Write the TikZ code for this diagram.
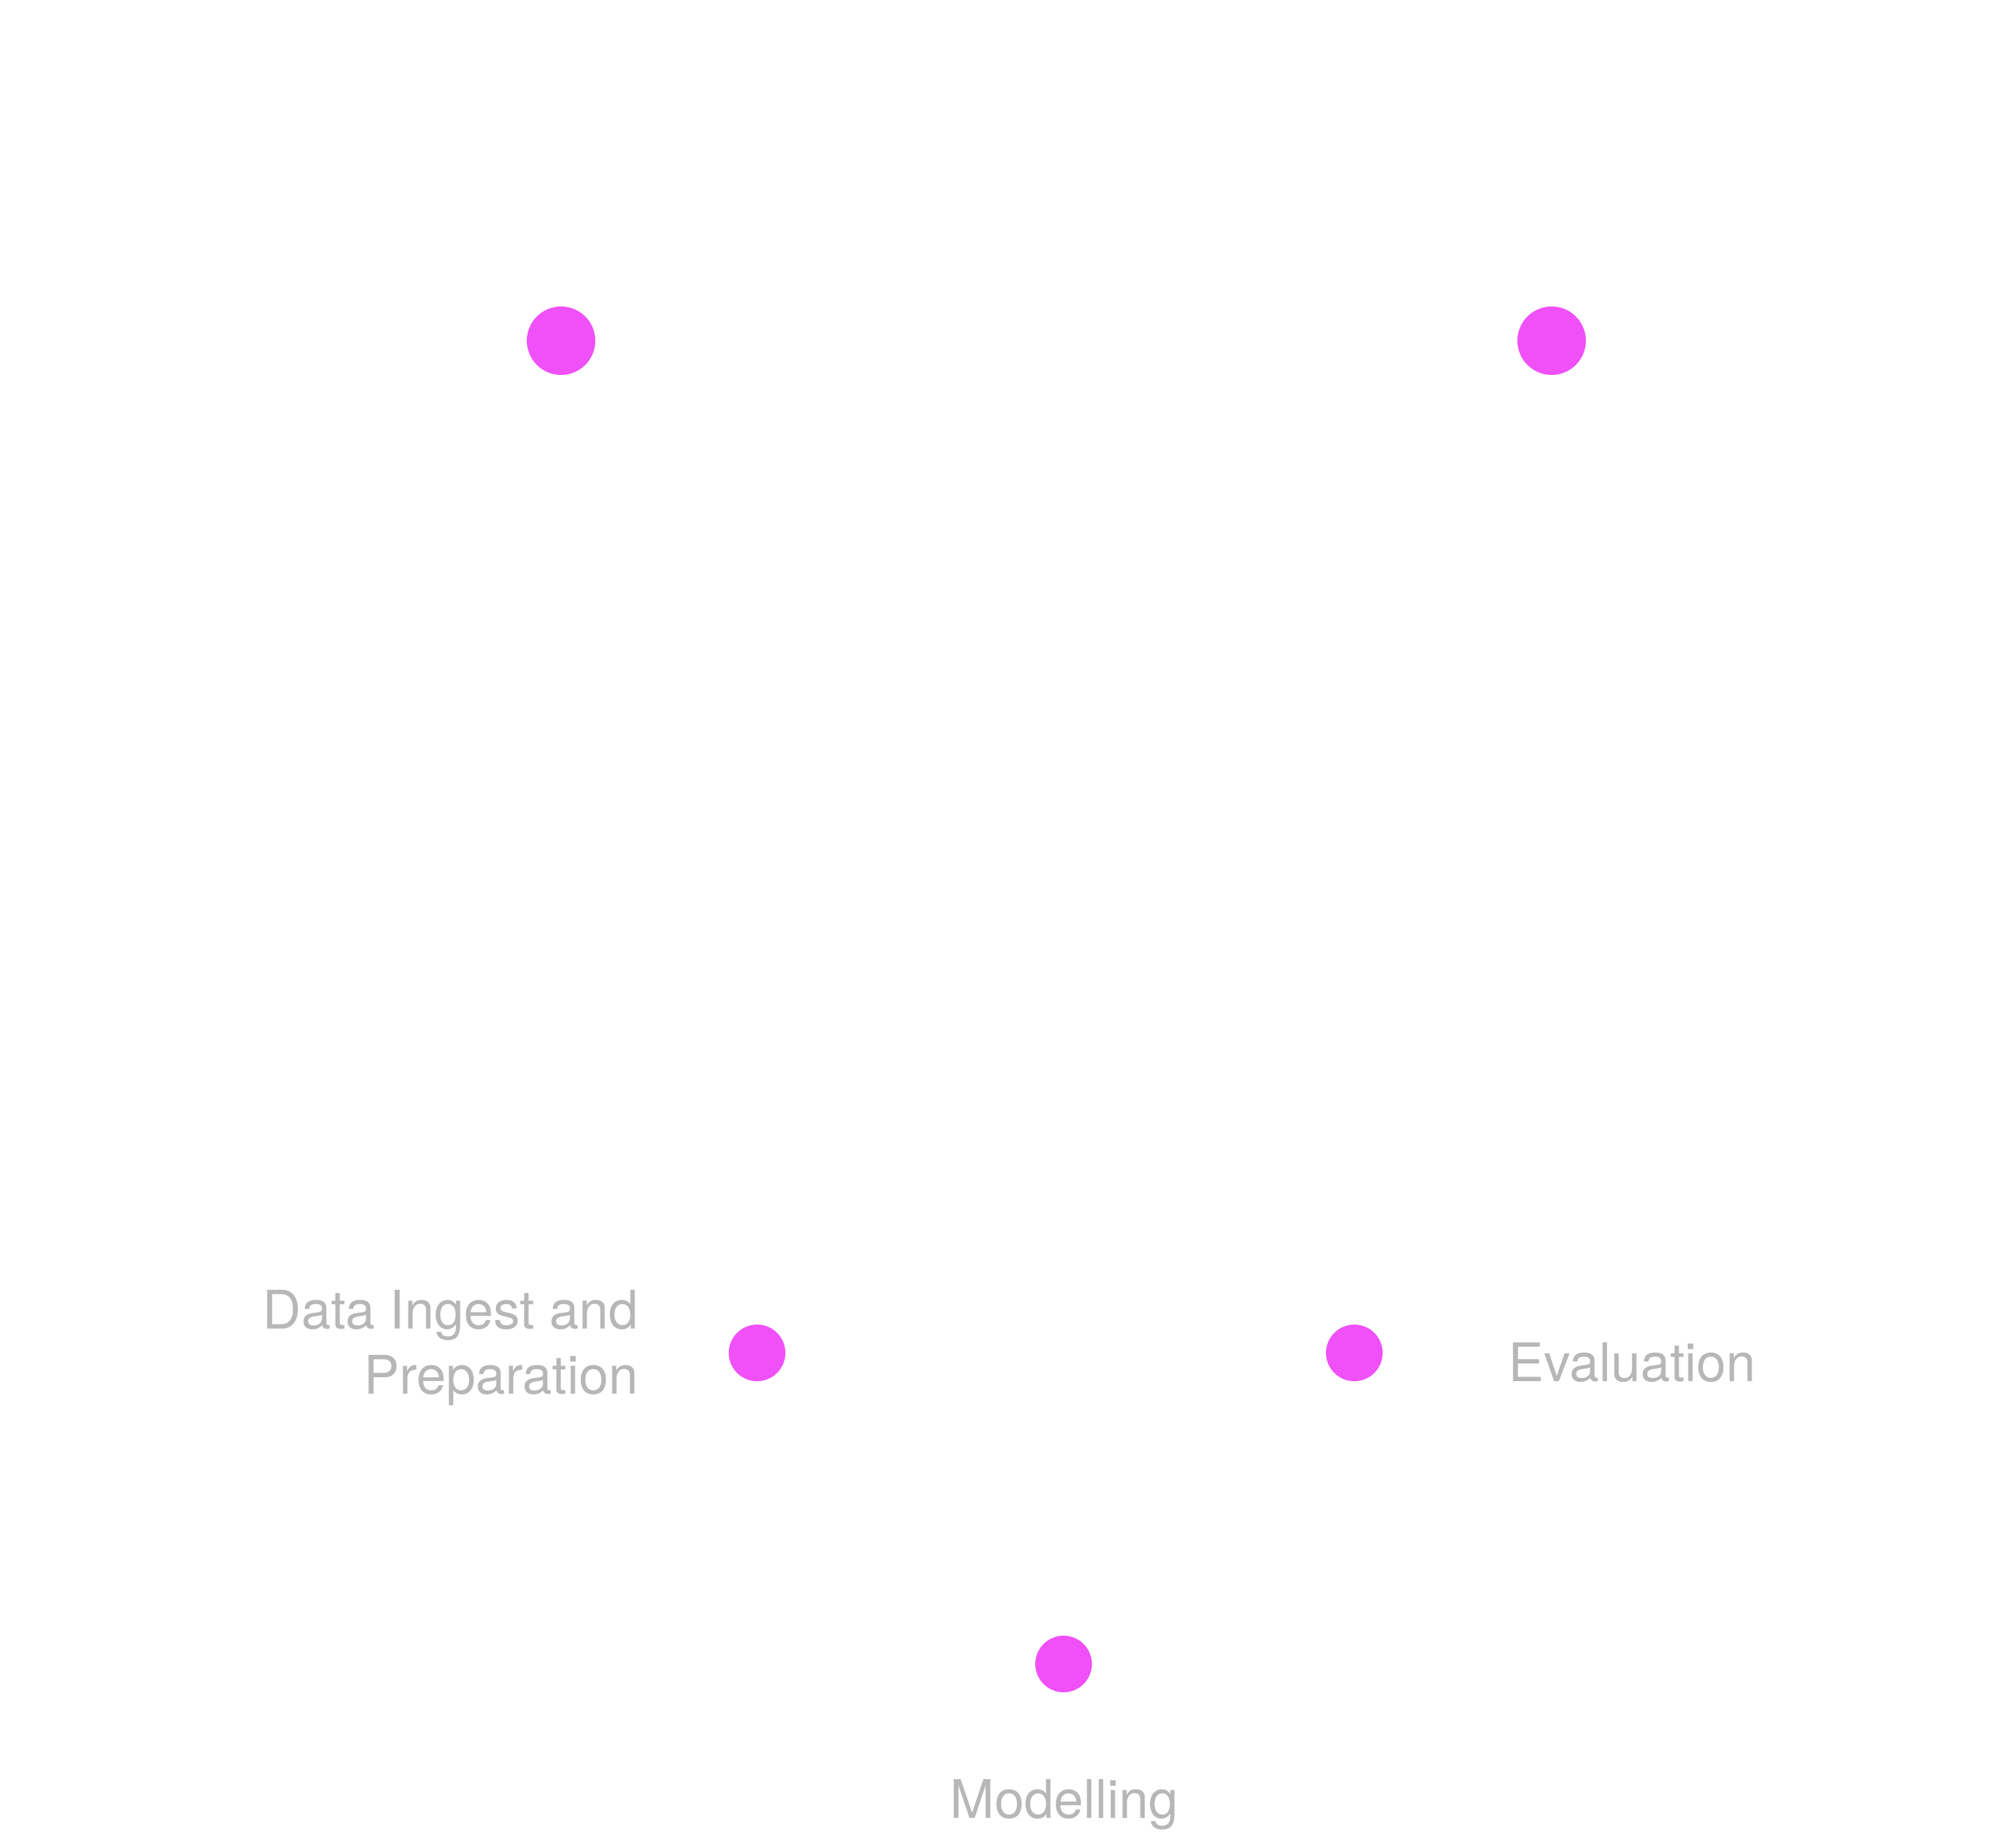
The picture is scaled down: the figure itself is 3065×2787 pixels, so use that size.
\documentclass[tikz,border=0pt]{standalone}
\usepackage{fontspec}
\setmainfont{TeX Gyre Heros}
\definecolor{dotc}{RGB}{240,80,248}
\definecolor{labc}{RGB}{183,183,183}
\begin{document}
\begin{tikzpicture}[x=0.01cm,y=-0.01cm,
  bigdot/.style={circle,fill=dotc,draw=none,inner sep=0pt,minimum size=1.04cm},
  smalldot/.style={circle,fill=dotc,draw=none,inner sep=0pt,minimum size=0.86cm},
  lab/.style={text=labc,inner sep=0pt,font=\fontsize{23}{27.9}\selectfont}]
\useasboundingbox[fill=white] (0,0) rectangle (3065,2787);
\node[bigdot] (tl) at (853,518) {};
\node[bigdot] (tr) at (2359,518) {};
\node[smalldot] (di) at (1151,2057) {};
\node[smalldot] (ev) at (2059,2057) {};
\node[smalldot] (mo) at (1617,2530) {};
\node[lab,anchor=base east,align=right] (dilab) at (971,2119) {Data Ingest and\\Preparation};
\node[lab,anchor=base west] (evlab) at (2293,2100) {Evaluation};
\node[lab,anchor=base] (molab) at (1618,2764) {Modelling};
\end{tikzpicture}
\end{document}
